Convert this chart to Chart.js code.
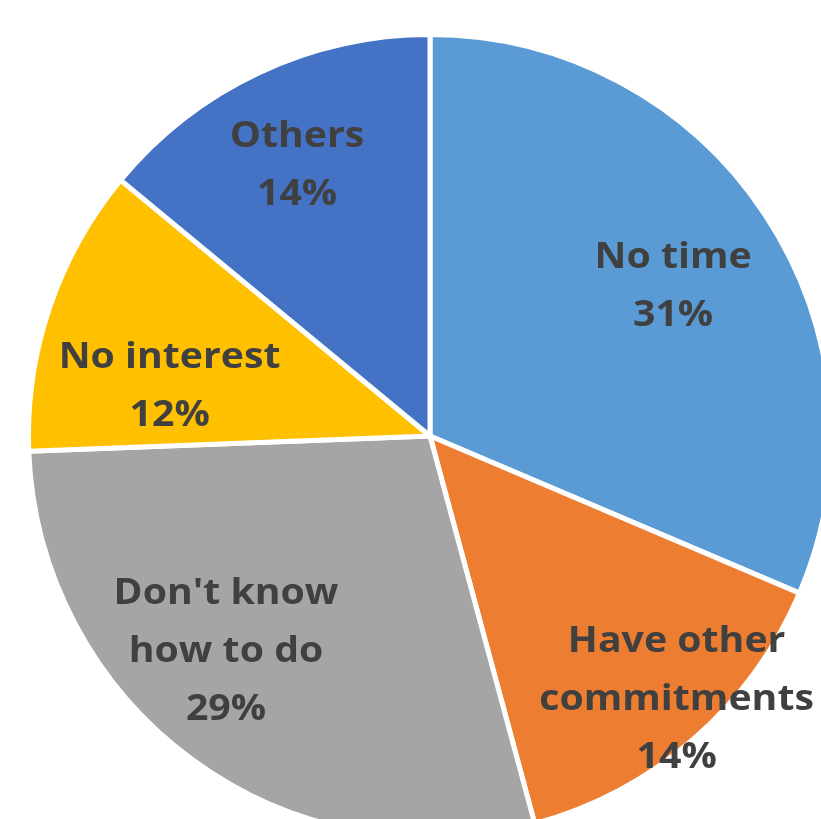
<!DOCTYPE html>
<html>
<head>
<meta charset="utf-8">
<script src="https://cdn.jsdelivr.net/npm/chart.js@4.4.0/dist/chart.umd.min.js"></script>
<style>
  html, body { margin: 0; padding: 0; background: #ffffff; overflow: hidden; }
  #wrap { position: absolute; left: 26px; top: 32px; width: 808px; height: 808px; }
</style>
</head>
<body>
<div id="wrap"><canvas id="pieChart" width="808" height="808"></canvas></div>
<script>
const labels = [['No time'], ['Have other', 'commitments'], ["Don't know", 'how to do'], ['No interest'], ['Others']];
const values = [31.4, 14.4, 28.6, 11.6, 14.0];
const colors = ['#5B9BD5', '#ED7D31', '#A5A5A5', '#FFC000', '#4472C4'];

// label placement: fraction of radius and angle nudge (degrees)
const labelRadius = [0.71, 0.90, 0.74, 0.66, 0.75];
const labelNudge = [2, -2, 7, -8, -1];

const sliceLabels = {
    id: 'sliceLabels',
    afterDatasetsDraw(chart) {
        const c = chart.ctx;
        const meta = chart.getDatasetMeta(0);
        const total = values.reduce((a, b) => a + b, 0);
        c.save();
        c.fillStyle = '#404040';
        c.font = 'bold 36px "Open Sans"';
        c.textAlign = 'center';
        c.textBaseline = 'middle';
        meta.data.forEach(function(arc, i){
            const mid = (arc.startAngle + arc.endAngle) / 2 + labelNudge[i] * Math.PI / 180;
            const r = arc.outerRadius * labelRadius[i];
            const x = arc.x + Math.cos(mid) * r;
            const y = arc.y + Math.sin(mid) * r;
            const lines = labels[i].concat([Math.round(values[i] / total * 100) + '%']);
            const lh = 58;
            lines.forEach(function(t, k){
                c.save();
                c.translate(x, y + (k - (lines.length - 1) / 2) * lh);
                c.scale(1.09, 1);
                c.fillText(t, 0, 0);
                c.restore();
            });
        });
        c.restore();
    }
};

const ctx = document.getElementById('pieChart').getContext('2d');
const pieChart = new Chart(ctx, {
    type: 'pie',
    plugins: [sliceLabels],
    data: {
        labels: labels.map(l => l.join(' ')),
        datasets: [{
            data: values,
            backgroundColor: colors,
            borderColor: '#ffffff',
            borderWidth: 5
        }]
    },
    options: {
        responsive: false,
        animation: false,
        layout: { padding: 0 },
        plugins: {
            legend: { display: false },
            tooltip: { enabled: false }
        }
    }
});
</script>
</body>
</html>
